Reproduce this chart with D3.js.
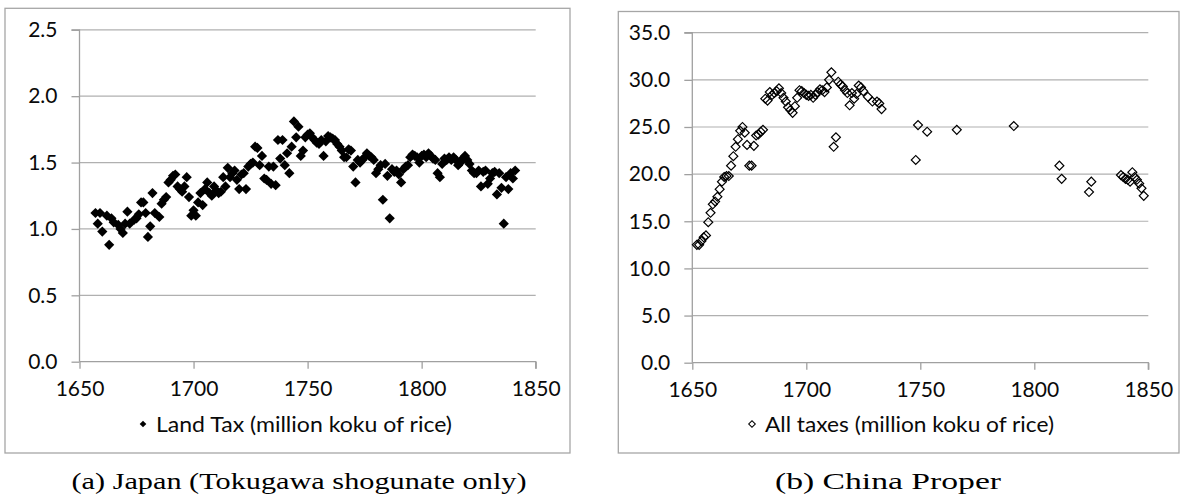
<!DOCTYPE html>
<html><head><meta charset="utf-8">
<script src="https://cdn.jsdelivr.net/npm/d3@7"></script>
<style>body{margin:0;background:#fff}svg{display:block}</style>
</head><body>
<svg id="c" width="1181" height="496"></svg>
<script>
// ---- Data ----
const japanYears = [1657,1658,1659,1660,1662,1663,1664,1665,1667,1668,1669,1670,1671,1672,1674,1675,1676,1677,1678,1679,1680,1681,1682,1683,1685,1686,1687,1688,1689,1690,1691,1692,1693,1694,1695,1696,1697,1698,1699,1700,1701,1702,1703,1704,1705,1706,1707,1708,1709,1710,1711,1712,1713,1714,1715,1716,1717,1718,1719,1720,1721,1722,1723,1724,1725,1726,1727,1728,1729,1730,1731,1732,1733,1734,1735,1736,1737,1738,1739,1740,1741,1742,1743,1744,1745,1746,1747,1748,1749,1750,1751,1752,1753,1754,1755,1756,1757,1758,1759,1760,1761,1762,1763,1764,1765,1766,1767,1768,1769,1770,1771,1772,1773,1774,1775,1776,1777,1778,1779,1780,1781,1782,1783,1784,1785,1786,1787,1788,1789,1790,1791,1792,1793,1794,1795,1796,1797,1798,1799,1800,1801,1802,1803,1804,1805,1806,1807,1808,1809,1810,1811,1812,1813,1814,1815,1816,1817,1818,1819,1820,1821,1822,1823,1824,1825,1826,1827,1828,1829,1830,1831,1832,1833,1834,1835,1836,1837,1838,1839,1840,1841];
const japanLandTax = [1.12,1.04,1.12,0.98,1.10,0.88,1.08,1.05,1.03,1.00,0.97,1.04,1.13,1.04,1.07,1.08,1.11,1.20,1.20,1.12,0.94,1.02,1.27,1.12,1.09,1.19,1.22,1.24,1.35,1.37,1.40,1.41,1.32,1.30,1.28,1.32,1.39,1.24,1.10,1.14,1.10,1.20,1.27,1.18,1.30,1.35,1.27,1.25,1.32,1.29,1.27,1.28,1.39,1.32,1.46,1.39,1.42,1.44,1.37,1.30,1.41,1.42,1.30,1.47,1.49,1.50,1.62,1.61,1.48,1.55,1.38,1.37,1.47,1.34,1.47,1.33,1.67,1.53,1.67,1.48,1.57,1.42,1.62,1.81,1.69,1.77,1.55,1.59,1.69,1.71,1.72,1.69,1.67,1.65,1.64,1.67,1.55,1.66,1.70,1.69,1.68,1.67,1.64,1.62,1.59,1.54,1.54,1.60,1.59,1.47,1.35,1.52,1.50,1.52,1.54,1.57,1.55,1.54,1.52,1.42,1.45,1.48,1.22,1.49,1.40,1.08,1.45,1.43,1.44,1.41,1.35,1.45,1.47,1.48,1.54,1.56,1.55,1.54,1.50,1.55,1.56,1.54,1.57,1.55,1.53,1.52,1.42,1.39,1.49,1.53,1.52,1.54,1.52,1.54,1.52,1.48,1.50,1.53,1.55,1.52,1.49,1.44,1.42,1.42,1.44,1.32,1.43,1.44,1.34,1.38,1.42,1.43,1.26,1.42,1.31,1.04,1.39,1.30,1.42,1.38,1.44];

const chinaYears = [1652,1653,1654,1655,1656,1657,1658,1659,1660,1661,1662,1663,1664,1665,1666,1667,1668,1669,1670,1671,1672,1673,1674,1675,1676,1677,1678,1679,1680,1681,1682,1683,1684,1685,1686,1687,1688,1689,1690,1691,1692,1693,1694,1695,1696,1697,1698,1699,1700,1701,1702,1703,1704,1705,1706,1707,1708,1709,1710,1711,1712,1713,1714,1715,1716,1717,1718,1719,1720,1721,1722,1723,1724,1725,1727,1729,1731,1732,1733,1748,1749,1753,1766,1791,1811,1812,1824,1825,1838,1839,1840,1841,1842,1843,1844,1845,1846,1847,1848];
const chinaAllTaxes = [12.5,12.5,12.9,13.3,13.5,14.9,15.9,16.8,17.1,17.6,18.4,19.2,19.7,19.8,19.8,20.9,21.9,22.9,23.7,24.6,25.0,24.4,23.1,20.9,20.9,23.0,24.1,24.2,24.5,24.7,28.0,27.8,28.7,28.4,28.6,28.8,29.1,28.6,28.1,27.7,27.1,26.8,26.5,27.2,28.1,28.9,28.8,28.6,28.4,28.3,28.4,28.1,28.4,28.7,29.0,28.9,28.7,29.2,30.0,30.8,22.9,23.9,29.8,29.5,29.3,28.9,28.6,27.3,28.6,28.0,28.5,29.4,29.2,28.8,28.2,27.7,27.7,27.5,26.9,21.5,25.2,24.5,24.7,25.1,20.9,19.5,18.1,19.2,19.9,19.7,19.5,19.4,19.2,20.2,19.7,19.4,19.0,18.5,17.7];

const xTicks = [1650,1700,1750,1800,1850];
const japanYTicks = [0,0.5,1.0,1.5,2.0,2.5];
const chinaYTicks = [0,5,10,15,20,25,30,35];
const japanLegend = "Land Tax (million koku of rice)";
const chinaLegend = "All taxes (million koku of rice)";
const captionA = "(a) Japan (Tokugawa shogunate only)";
const captionB = "(b) China Proper";

// ---- Drawing ----
const svg = d3.select("#c");
const tickFont = "Lato, 'Open Sans', sans-serif";

function panel(cfg) {
  const g = svg.append("g");
  g.append("rect").attr("x", cfg.box[0]).attr("y", cfg.box[1])
    .attr("width", cfg.box[2]-cfg.box[0]).attr("height", cfg.box[3]-cfg.box[1])
    .attr("fill", "#fff").attr("stroke", "#a6a6a6").attr("stroke-width", 1.3);

  const x = d3.scaleLinear().domain([1650,1850]).range(cfg.xr);
  const y = d3.scaleLinear().domain(cfg.yd).range(cfg.yr);

  g.append("g").selectAll("line").data(cfg.yTicks.filter(v => v !== 0)).join("line")
    .attr("x1", cfg.xr[0]).attr("x2", cfg.xr[1])
    .attr("y1", d => y(d)).attr("y2", d => y(d))
    .attr("stroke", "#b0b0b0").attr("stroke-width", 1.2);

  const ya = g.append("g").attr("transform", `translate(${cfg.xr[0]},0)`)
    .call(d3.axisLeft(y).tickValues(cfg.yTicks).tickFormat(d3.format(".1f")).tickSize(8).tickPadding(14));
  const xa = g.append("g").attr("transform", `translate(0,${cfg.yr[0]})`)
    .call(d3.axisBottom(x).tickValues(xTicks).tickFormat(d3.format("d")).tickSize(7).tickPadding(12));
  [ya, xa].forEach(a => {
    a.selectAll(".domain").attr("stroke", "#a0a0a0").attr("stroke-width", 1.3);
    a.selectAll(".tick line").attr("stroke", "#a0a0a0").attr("stroke-width", 1.3);
    a.selectAll("text").attr("font-family", tickFont).attr("font-size", 21).attr("fill", "#0a0a0a");
  });
  ya.select(".domain").attr("d", `M-8,${cfg.yr[1]}H0V${cfg.yr[0]}`);
  xa.select(".domain").attr("d", `M${cfg.xr[0]},0H${cfg.xr[1]}V7`);

  const sym = d3.symbol().type(d3.symbolSquare).size(cfg.msize);
  g.append("g").selectAll("path").data(cfg.years.map((yr, i) => [yr, cfg.vals[i]])).join("path")
    .attr("d", sym)
    .attr("transform", d => `translate(${x(d[0])},${y(d[1])}) rotate(45)`)
    .attr("fill", cfg.filled ? "#000" : "#fff")
    .attr("fill-opacity", cfg.filled ? 1 : 0)
    .attr("stroke", "#000").attr("stroke-width", cfg.filled ? 0 : 1.2);

  const lsym = d3.symbol().type(d3.symbolSquare).size(22);
  g.append("path").attr("d", lsym)
    .attr("transform", `translate(${cfg.legend[0]},${cfg.legend[1]}) rotate(45)`)
    .attr("fill", cfg.filled ? "#000" : "#fff")
    .attr("stroke", "#000").attr("stroke-width", cfg.filled ? 0 : 1);
  g.append("text").attr("x", cfg.legend[0] + 13).attr("y", cfg.legend[1])
    .attr("dy", "0.35em").attr("font-family", tickFont).attr("font-size", 22)
    .attr("textLength", cfg.legend[2]).attr("lengthAdjust", "spacingAndGlyphs")
    .attr("fill", "#0a0a0a").text(cfg.legendText);

  g.append("text").attr("x", cfg.caption[0]).attr("y", cfg.caption[1])
    .attr("text-anchor", "middle").attr("dy", "0.35em")
    .attr("font-family", "'Liberation Serif', 'DejaVu Serif', serif")
    .attr("font-size", 24).attr("fill", "#000")
    .attr("textLength", cfg.caption[2]).attr("lengthAdjust", "spacingAndGlyphs")
    .text(cfg.captionText);
}

panel({
  box: [5, 8.3, 570, 453], xr: [79.5, 535.7], yr: [361.7, 29.8], yd: [0, 2.5],
  yTicks: japanYTicks, years: japanYears, vals: japanLandTax, filled: true, msize: 52,
  legend: [143, 424, 296], legendText: japanLegend,
  caption: [299, 481, 455], captionText: captionA
});
panel({
  box: [618.3, 11.5, 1179, 453], xr: [692.3, 1148.3], yr: [362.7, 32.7], yd: [0, 35],
  yTicks: chinaYTicks, years: chinaYears, vals: chinaAllTaxes, filled: false, msize: 40,
  legend: [752, 424, 289], legendText: chinaLegend,
  caption: [888, 481, 226], captionText: captionB
});
</script>
</body></html>
